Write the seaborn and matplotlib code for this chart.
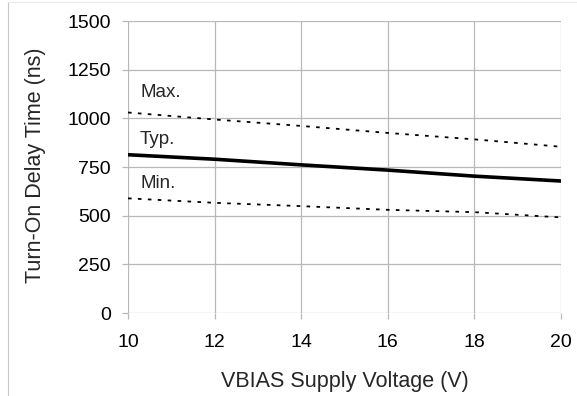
import matplotlib
matplotlib.use("Agg")
import matplotlib.pyplot as plt
import seaborn as sns
import pandas as pd
from matplotlib.lines import Line2D

voltage = [10, 12, 14, 16, 18, 20]
max_delay = [1030, 994, 961, 925, 892, 854]
typ_delay = [813, 790, 761, 734, 703, 678]
min_delay = [589, 566, 549, 530, 518, 491]
series_names = ["Max.", "Typ.", "Min."]
x_ticks = [10, 12, 14, 16, 18, 20]
y_ticks = [0, 250, 500, 750, 1000, 1250, 1500]

df = pd.DataFrame({
    "V": voltage * 3,
    "t": max_delay + typ_delay + min_delay,
    "s": [series_names[0]] * 6 + [series_names[1]] * 6 + [series_names[2]] * 6,
})

sns.set_theme(style="white")
plt.rcParams["font.family"] = ["Liberation Sans", "DejaVu Sans"]

fig = plt.figure(figsize=(5.77, 3.96), dpi=100)
ax = fig.add_axes([128 / 577, 1 - 313 / 396, (561 - 128) / 577, (313 - 21) / 396])

sns.lineplot(data=df, x="V", y="t", hue="s", style="s",
             palette={"Max.": "black", "Typ.": "black", "Min.": "black"},
             dashes={"Max.": (2, 3.5), "Typ.": "", "Min.": (2, 3.5)},
             size="s", sizes={"Max.": 1.3, "Typ.": 2.6, "Min.": 1.3},
             legend=False, ax=ax)

ax.set_xlim(10, 20)
ax.set_ylim(0, 1500)
ax.set_xticks(x_ticks)
ax.set_yticks(y_ticks)
ax.grid(True, color="#b8b8b8", linewidth=0.9)
ax.set_axisbelow(True)
for sp in ax.spines.values():
    sp.set_visible(False)
ax.tick_params(axis="both", which="both", length=4, width=0.9, color="#b8b8b8",
               labelsize=14, labelcolor="black", left=True, bottom=True)
ax.tick_params(axis="y", pad=8.5)
ax.tick_params(axis="x", pad=11)
ax.set_xlabel("VBIAS Supply Voltage (V)", fontsize=15.5, va="center")
ax.set_ylabel("Turn-On Delay Time (ns)", fontsize=15.5, va="center")
ax.xaxis.set_label_coords(0.5, (313 - 381) / 292)
ax.yaxis.set_label_coords((36 - 128) / 433, (313 - 165) / 292)

label_y = [1134, 893, 667]
for name, yv in zip(series_names, label_y):
    ax.text(10.28, yv, name, fontsize=13.5, ha="left", va="center")

fig.add_artist(Line2D([8 / 577, 8 / 577], [0, 1 - 2 / 396], transform=fig.transFigure,
                      color="#c8c8c8", linewidth=0.8))
fig.add_artist(Line2D([8 / 577, 1], [1 - 2 / 396, 1 - 2 / 396], transform=fig.transFigure,
                      color="#ececec", linewidth=0.8))

fig.savefig("out.png", dpi=100)
